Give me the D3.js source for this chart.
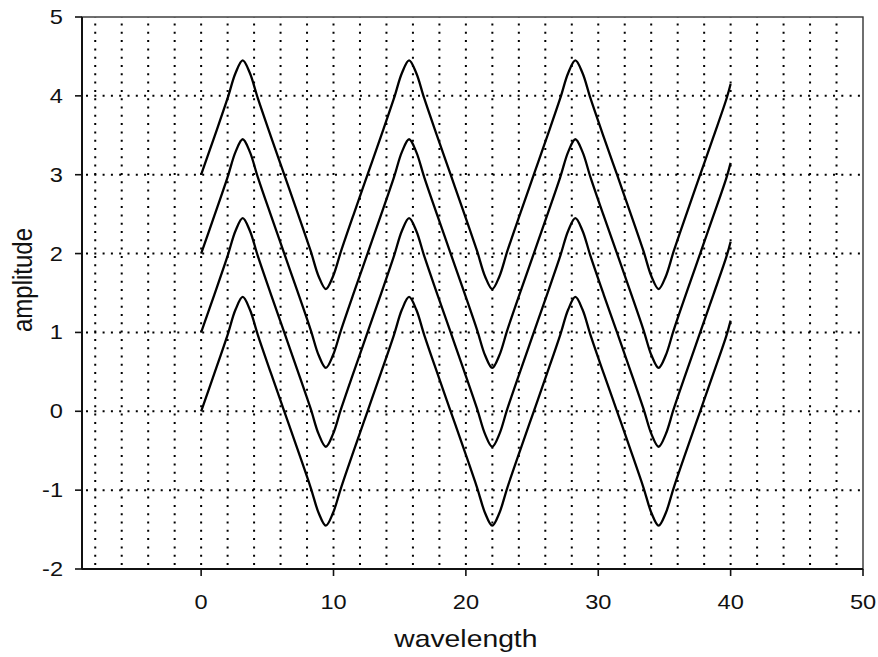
<!DOCTYPE html>
<html>
<head>
<meta charset="utf-8">
<script src="https://cdn.jsdelivr.net/npm/d3@7"></script>
<style>
  body { margin: 0; background: #fff; }
  text { font-family: Arial, "Liberation Sans", sans-serif; fill: #111; }
</style>
</head>
<body>
<script>
// ── data ────────────────────────────────────────────────────────────────────
const xs = [
  0, 1, 2, 2.6, 3.14, 3.68, 4.28, 5.28,
  6.28, 7.28, 8.28, 8.88, 9.42, 9.96, 10.57, 11.57,
  12.57, 13.57, 14.57, 15.17, 15.71, 16.25, 16.85, 17.85,
  18.85, 19.85, 20.85, 21.45, 21.99, 22.53, 23.13, 24.13,
  25.13, 26.13, 27.13, 27.73, 28.27, 28.81, 29.41, 30.41,
  31.42, 32.42, 33.42, 34.02, 34.56, 35.10, 35.70, 36.70,
  37.70, 38.70, 39.70, 40
];
const wave0 = [
  0, 0.48, 0.97, 1.29, 1.45, 1.29, 0.97, 0.48,
  0, -0.48, -0.97, -1.29, -1.45, -1.29, -0.97, -0.48,
  0, 0.48, 0.97, 1.29, 1.45, 1.29, 0.97, 0.48,
  0, -0.48, -0.97, -1.29, -1.45, -1.29, -0.97, -0.48,
  0, 0.48, 0.97, 1.29, 1.45, 1.29, 0.97, 0.48,
  0, -0.48, -0.97, -1.29, -1.45, -1.29, -0.97, -0.48,
  0, 0.48, 0.97, 1.15
];
const wave1 = [
  1, 1.48, 1.97, 2.29, 2.45, 2.29, 1.97, 1.48,
  1, 0.52, 0.03, -0.29, -0.45, -0.29, 0.03, 0.52,
  1, 1.48, 1.97, 2.29, 2.45, 2.29, 1.97, 1.48,
  1, 0.52, 0.03, -0.29, -0.45, -0.29, 0.03, 0.52,
  1, 1.48, 1.97, 2.29, 2.45, 2.29, 1.97, 1.48,
  1, 0.52, 0.03, -0.29, -0.45, -0.29, 0.03, 0.52,
  1, 1.48, 1.97, 2.15
];
const wave2 = [
  2, 2.48, 2.97, 3.29, 3.45, 3.29, 2.97, 2.48,
  2, 1.52, 1.03, 0.71, 0.55, 0.71, 1.03, 1.52,
  2, 2.48, 2.97, 3.29, 3.45, 3.29, 2.97, 2.48,
  2, 1.52, 1.03, 0.71, 0.55, 0.71, 1.03, 1.52,
  2, 2.48, 2.97, 3.29, 3.45, 3.29, 2.97, 2.48,
  2, 1.52, 1.03, 0.71, 0.55, 0.71, 1.03, 1.52,
  2, 2.48, 2.97, 3.15
];
const wave3 = [
  3, 3.48, 3.97, 4.29, 4.45, 4.29, 3.97, 3.48,
  3, 2.52, 2.03, 1.71, 1.55, 1.71, 2.03, 2.52,
  3, 3.48, 3.97, 4.29, 4.45, 4.29, 3.97, 3.48,
  3, 2.52, 2.03, 1.71, 1.55, 1.71, 2.03, 2.52,
  3, 3.48, 3.97, 4.29, 4.45, 4.29, 3.97, 3.48,
  3, 2.52, 2.03, 1.71, 1.55, 1.71, 2.03, 2.52,
  3, 3.48, 3.97, 4.15
];
const series = [wave0, wave1, wave2, wave3];
const xTicks = [0, 10, 20, 30, 40, 50];
const yTicks = [-2, -1, 0, 1, 2, 3, 4, 5];

// ── layout ─────────────────────────────────────────────────────────────────
const W = 878, H = 657;
const X0 = 82, X1 = 863, Y0 = 569, Y1 = 17;
const STRETCH = 1.18;          // the scan is wider than it is tall

const x = d3.scaleLinear().domain([-9, 50]).range([X0, X1]);
const y = d3.scaleLinear().domain([-2, 5]).range([Y0, Y1]);

const svg = d3.select('body').append('svg').attr('width', W).attr('height', H);

// dotted grid: verticals every 2, horizontals at whole numbers
const grid = svg.append('g').attr('stroke', '#000').attr('stroke-width', 2)
  .attr('stroke-dasharray', '2,6.3');
grid.selectAll('.gx').data(d3.range(-8, 50, 2)).join('line')
  .attr('x1', d => x(d)).attr('x2', d => x(d)).attr('y1', Y0 - 4).attr('y2', Y1);
grid.selectAll('.gy').data(yTicks.filter(v => v > -2 && v < 5)).join('line')
  .attr('y1', d => y(d)).attr('y2', d => y(d)).attr('x1', X0 + 4).attr('x2', X1);

// frame
svg.append('rect').attr('x', X0).attr('y', Y1).attr('width', X1 - X0).attr('height', Y0 - Y1)
  .attr('fill', 'none').attr('stroke', '#333').attr('stroke-width', 1.4);
svg.append('line').attr('x1', X0).attr('x2', X0).attr('y1', Y1).attr('y2', Y0)
  .attr('stroke', '#111').attr('stroke-width', 2);
svg.append('line').attr('x1', X0).attr('x2', X1).attr('y1', Y0).attr('y2', Y0)
  .attr('stroke', '#111').attr('stroke-width', 2);

// ticks
svg.selectAll('.tx').data(xTicks).join('line')
  .attr('x1', d => x(d)).attr('x2', d => x(d)).attr('y1', Y0).attr('y2', Y0 + 7)
  .attr('stroke', '#111').attr('stroke-width', 1.6);
svg.selectAll('.ty').data(yTicks).join('line')
  .attr('y1', d => y(d)).attr('y2', d => y(d)).attr('x1', X0 - 7).attr('x2', X0)
  .attr('stroke', '#111').attr('stroke-width', 1.6);

// tick labels
svg.selectAll('.lx').data(xTicks).join('text')
  .attr('transform', d => `translate(${x(d)},${Y0 + 40}) scale(${STRETCH},1)`)
  .attr('text-anchor', 'middle').attr('font-size', 20).text(d => d);
svg.selectAll('.ly').data(yTicks).join('text')
  .attr('transform', d => `translate(${X0 - 19},${y(d) + 7}) scale(${STRETCH},1)`)
  .attr('text-anchor', 'end').attr('font-size', 20).text(d => d);

// axis titles
svg.append('text')
  .attr('transform', `translate(${x(20)},${647}) scale(${STRETCH},1)`)
  .attr('text-anchor', 'middle').attr('font-size', 24).text('wavelength');
svg.append('text')
  .attr('transform', `translate(${32},${280}) scale(${STRETCH},1) rotate(-90)`)
  .attr('text-anchor', 'middle').attr('font-size', 24).text('amplitude');

// the four waves
const line = d3.line().x((d, i) => x(xs[i])).y(d => y(d)).curve(d3.curveCatmullRom.alpha(0.5));
svg.selectAll('.wave').data(series).join('path')
  .attr('d', line).attr('fill', 'none').attr('stroke', '#000').attr('stroke-width', 2.3)
  .attr('stroke-linejoin', 'round');
</script>
</body>
</html>
